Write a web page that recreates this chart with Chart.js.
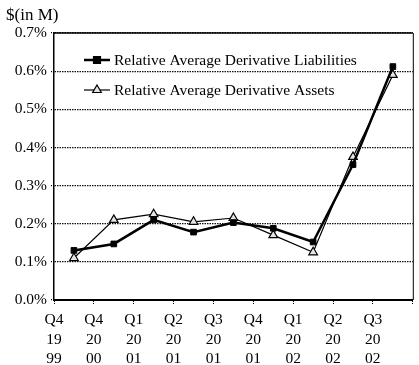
<!DOCTYPE html>
<html>
<head>
<meta charset="utf-8">
<script src="https://cdn.jsdelivr.net/npm/chart.js@4/dist/chart.umd.min.js"></script>
<style>
  html, body { margin: 0; padding: 0; background: #fff; }
  canvas { display: block; }
</style>
</head>
<body>
<canvas id="chart" width="419" height="365"></canvas>
<script>
// Quarter labels, stacked as quarter / century / year
const quarters = [
  ['Q4', '19', '99'],
  ['Q4', '20', '00'],
  ['Q1', '20', '01'],
  ['Q2', '20', '01'],
  ['Q3', '20', '01'],
  ['Q4', '20', '01'],
  ['Q1', '20', '02'],
  ['Q2', '20', '02'],
  ['Q3', '20', '02']
];

// Relative averages, in percent
const liabilities = [0.13, 0.147, 0.21, 0.178, 0.203, 0.188, 0.152, 0.355, 0.612];
const assets = [0.11, 0.21, 0.225, 0.205, 0.215, 0.17, 0.125, 0.375, 0.59];

const seriesNames = ['Relative Average Derivative Liabilities', 'Relative Average Derivative Assets'];
const unitCaption = '$(in M)';

const SERIF = "'Liberation Serif', 'Times New Roman', serif";

// Caption above the value axis and the solid top/right frame
const framePlugin = {
  id: 'frame',
  afterDraw(chart) {
    const { ctx, chartArea: a } = chart;
    ctx.save();
    ctx.strokeStyle = '#000';
    ctx.lineWidth = 1.5;
    ctx.beginPath();
    ctx.moveTo(a.left, a.top);
    ctx.lineTo(a.right, a.top);
    ctx.stroke();
    ctx.lineWidth = 1;
    ctx.beginPath();
    ctx.moveTo(a.right + 0.5, a.top);
    ctx.lineTo(a.right + 0.5, a.bottom);
    ctx.stroke();
    ctx.fillStyle = '#000';
    ctx.font = '17px ' + SERIF;
    ctx.textBaseline = 'middle';
    ctx.textAlign = 'left';
    ctx.fillText(unitCaption, 6, 16);
    ctx.restore();
  }
};

// Legend drawn inside the plot: short line with its marker, then the name
const insideLegend = {
  id: 'insideLegend',
  afterDatasetsDraw(chart) {
    const { ctx, chartArea: a } = chart;
    const rows = [a.top + 27, a.top + 57];
    chart.data.datasets.forEach((ds, i) => {
      const y = rows[i];
      const x0 = a.left + 30, x1 = a.left + 56, xm = (x0 + x1) / 2;
      ctx.save();
      ctx.strokeStyle = ds.borderColor;
      ctx.lineWidth = ds.borderWidth;
      ctx.beginPath();
      ctx.moveTo(x0, y);
      ctx.lineTo(x1, y);
      ctx.stroke();
      ctx.fillStyle = ds.pointBackgroundColor;
      ctx.strokeStyle = ds.pointBorderColor;
      Chart.helpers.drawPoint(ctx, {
        pointStyle: ds.pointStyle,
        radius: ds.pointRadius,
        rotation: 0,
        borderWidth: ds.pointBorderWidth
      }, xm, y);
      ctx.fillStyle = '#000';
      ctx.font = '15.5px ' + SERIF;
      ctx.textBaseline = 'middle';
      ctx.textAlign = 'left';
      ctx.fillText(ds.label, x1 + 4, y + 1);
      ctx.restore();
    });
  }
};

new Chart(document.getElementById('chart'), {
  type: 'line',
  data: {
    labels: quarters,
    datasets: [
      {
        label: seriesNames[0],
        data: liabilities,
        borderColor: '#000',
        borderWidth: 2.5,
        pointStyle: 'rect',
        pointRadius: 4,
        pointBackgroundColor: '#000',
        pointBorderColor: '#000',
        pointBorderWidth: 1,
        tension: 0
      },
      {
        label: seriesNames[1],
        data: assets,
        borderColor: '#000',
        borderWidth: 1.2,
        pointStyle: 'triangle',
        pointRadius: 5,
        pointBackgroundColor: '#e4e4e4',
        pointBorderColor: '#000',
        pointBorderWidth: 1.2,
        tension: 0
      }
    ]
  },
  options: {
    responsive: false,
    animation: false,
    devicePixelRatio: 1,
    layout: { padding: { top: 33, right: 6, left: 0, bottom: 0 } },
    plugins: {
      legend: { display: false },
      tooltip: { enabled: false },
      title: { display: false }
    },
    scales: {
      x: {
        type: 'category',
        offset: true,
        afterFit(scale) { scale.height = 65; },
        grid: {
          display: true,
          offset: true,
          drawOnChartArea: false,
          tickLength: 5,
          tickColor: '#000',
          tickWidth: 1,
          tickBorderDash: [1, 1]
        },
        border: { display: true, color: '#000', width: 2 },
        ticks: {
          autoSkip: false,
          maxRotation: 0,
          minRotation: 0,
          labelOffset: -20,
          padding: 5,
          color: '#000',
          font: { family: SERIF, size: 15.5, lineHeight: 1.27 }
        }
      },
      y: {
        min: 0,
        max: 0.7,
        afterFit(scale) { scale.width = 54; },
        grid: {
          color: '#111',
          lineWidth: 1.2,
          tickLength: 3,
          tickColor: '#000',
          tickBorderDash: [1, 1]
        },
        border: { display: true, color: '#000', width: 1.5, dash: [1.5, 1] },
        ticks: {
          stepSize: 0.1,
          padding: 4,
          color: '#000',
          font: { family: SERIF, size: 15.5 },
          callback: (v) => v.toFixed(1) + '%'
        }
      }
    }
  },
  plugins: [framePlugin, insideLegend]
});
</script>
</body>
</html>
